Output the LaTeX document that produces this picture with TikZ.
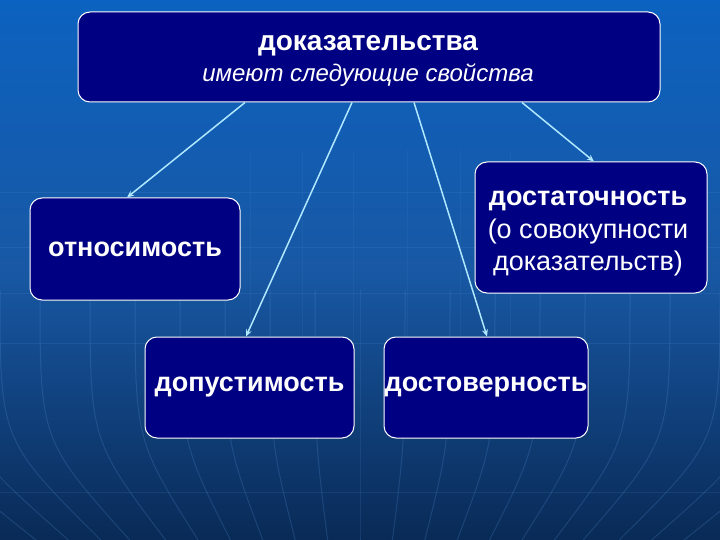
\documentclass[tikz,border=0pt]{standalone}
\usepackage{fontspec}
\setmainfont{Liberation Sans}
\usetikzlibrary{arrows.meta}
\definecolor{bgtop}{RGB}{12,98,192}
\definecolor{bgmid}{RGB}{24,88,164}
\definecolor{bgbot}{RGB}{9,42,86}
\definecolor{boxfill}{RGB}{0,0,130}
\definecolor{arrowcol}{RGB}{175,232,255}
\definecolor{gridcol}{RGB}{90,150,220}
\tikzset{
  box/.style={draw=white, line width=1pt, fill=boxfill, rounded corners=12pt,
    text=white, align=center, inner sep=0pt},
  txt/.style={text=white, align=center, inner sep=0pt},
  big/.style={font=\fontsize{27}{33}\selectfont\bfseries},
  arr/.style={draw=arrowcol, line width=1.5pt, -{Stealth[length=7pt,width=6pt]}},
  gline/.style={draw=gridcol, line width=1pt}
}
\begin{document}
\begin{tikzpicture}[x=1pt,y=-1pt]
\useasboundingbox (0,0) rectangle (720,540);
\shade[top color=bgtop, bottom color=bgbot, middle color=bgmid] (0,0) rectangle (720,540);
% faint background grid
\foreach \yy in {193,247,293,343,492} {
  \draw[gline, opacity=0.15] (0,\yy) -- (720,\yy);
}
\foreach \xx in {250,302,353,407,460,510} {
  \draw[gline, opacity=0.1] (\xx,150) -- (\xx,345);
}
\foreach \xt in {-90,-45,0,40,90,135,180,225,270,315,360,405,450,495,540,585,630,670,720,765,810} {
  \draw[gline, opacity=0.22] (\xt,290) .. controls (\xt,440) .. ({360+(\xt-360)*0.72},540);
}
% nodes
\node[box, minimum width=582pt, minimum height=90pt] (top) at (369,57) {};
\node[txt] (toptext) at (368,61)
  {{\fontsize{28}{30}\selectfont\bfseries доказательства}\\[7pt]
   {\fontsize{24}{26}\selectfont\itshape имеют следующие свойства}};
\node[box, big, minimum width=210pt, minimum height=102pt] (rel) at (135,249) {относимость};
\node[box, minimum width=232pt, minimum height=131pt] (suf) at (591,227.5) {};
\node[txt, font=\fontsize{27}{32.5}\selectfont] (suftext) at (588,234)
  {\textbf{достаточность}\\(о совокупности\\ доказательств)};
\node[box, big, minimum width=209pt, minimum height=101pt] (adm) at (249.5,387.5) {допустимость};
\node[box, big, minimum width=204pt, minimum height=101pt] (rel2) at (486,387.5) {достоверность};
% connectors
\draw[arr] (245,0 |- top.south) -- (127,0 |- rel.north);
\draw[arr] (352,0 |- top.south) -- (246,0 |- adm.north);
\draw[arr] (414,0 |- top.south) -- (487,0 |- rel2.north);
\draw[arr] (522,0 |- top.south) -- (594,0 |- suf.north);
\end{tikzpicture}
\end{document}
